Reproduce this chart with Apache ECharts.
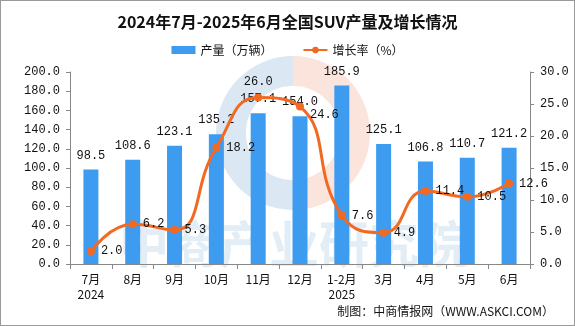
<!DOCTYPE html>
<html>
<head>
<meta charset="utf-8">
<script src="https://cdn.jsdelivr.net/npm/echarts@6/dist/echarts.min.js"></script>
<style>
html,body{margin:0;padding:0;background:#fff;}
#chart{width:575px;height:326px;box-sizing:border-box;border:1px solid #9a9a9a;}
</style>
</head>
<body>
<div id="chart"></div>
<script>
// 月份
const categories = ['7月\n2024','8月','9月','10月','11月','12月','1-2月\n2025','3月','4月','5月','6月'];
// 产量（万辆）
const production = [98.5,108.6,123.1,135.2,157.1,154.0,185.9,125.1,106.8,110.7,121.2];
// 增长率（%）
const growth = [2.0,6.2,5.3,18.2,26.0,24.6,7.6,4.9,11.4,10.5,12.6];
// 坐标轴刻度
const leftTicks = {min:0,max:200,interval:20};
const rightTicks = {min:0,max:30,interval:5};

const numFont = '"Liberation Mono","DejaVu Sans Mono",monospace';
const cjkFont = '"Noto Sans CJK SC","Noto Sans",sans-serif';

const chart = echarts.init(document.getElementById('chart'));
chart.setOption({
  animation:false,
  title:{
    text:'2024年7月-2025年6月全国SUV产量及增长情况',
    left:'center', top:8,
    textStyle:{fontFamily:cjkFont,fontSize:16,fontWeight:'bold',color:'#111'}
  },
  legend:{
    top:38, left:'center', itemGap:30,
    textStyle:{fontFamily:cjkFont,fontSize:12,color:'#111'},
    data:[
      {name:'产量（万辆）',icon:'rect',itemStyle:{color:'#3d9bf0'}},
      {name:'增长率（%）'}
    ],
    itemWidth:24,itemHeight:8
  },
  graphic:[
    // 背景水印标志
    {type:'arc',shape:{cx:292,cy:132,r:62,startAngle:Math.PI*0.5,endAngle:Math.PI*1.5},z:0,silent:true,
     style:{fill:'none',stroke:'rgba(175,205,228,0.45)',lineWidth:30}},
    {type:'arc',shape:{cx:292,cy:132,r:62,startAngle:-Math.PI*0.5,endAngle:Math.PI*0.5},z:0,silent:true,
     style:{fill:'none',stroke:'rgba(245,195,175,0.45)',lineWidth:30}},
    {type:'text',left:118,top:218,z:0,silent:true,
     style:{text:'中商产业研究院',font:'bold 50px "Noto Sans CJK SC"',fill:'rgba(160,195,225,0.30)'}},
    {type:'text',right:20,bottom:8,
     style:{text:'制图：中商情报网（WWW.ASKCI.COM）',font:'12px "Noto Sans CJK SC"',fill:'#111'}}
  ],
  grid:{left:69,right:44,top:71,bottom:61},
  xAxis:{
    type:'category',data:categories,
    axisLine:{lineStyle:{color:'#888'}},
    axisTick:{show:true,lineStyle:{color:'#888'},length:5},
    axisLabel:{fontFamily:cjkFont,fontSize:12,color:'#111',margin:8,lineHeight:15}
  },
  yAxis:[
    {type:'value',min:leftTicks.min,max:leftTicks.max,interval:leftTicks.interval,
     splitLine:{show:false},
     axisLine:{show:true,lineStyle:{color:'#888'}},
     axisTick:{show:true,lineStyle:{color:'#888'},length:4},
     axisLabel:{formatter:v=>v.toFixed(1),fontFamily:numFont,fontSize:12,color:'#111',margin:10}},
    {type:'value',min:rightTicks.min,max:rightTicks.max,interval:rightTicks.interval,
     splitLine:{show:false},
     axisLine:{show:true,lineStyle:{color:'#888'}},
     axisTick:{show:true,lineStyle:{color:'#888'},length:4},
     axisLabel:{formatter:v=>v.toFixed(1),fontFamily:numFont,fontSize:12,color:'#111',margin:10}}
  ],
  series:[
    {name:'产量（万辆）',type:'bar',data:production,barWidth:15,
     itemStyle:{color:'#3d9bf0'},
     label:{show:true,position:'top',distance:8,formatter:p=>p.value.toFixed(1),
       fontFamily:numFont,fontSize:12,color:'#111'}},
    {name:'增长率（%）',type:'line',yAxisIndex:1,
     data:growth.map((v,i)=>i===4?{value:v,label:{position:'top'}}:(i===5?{value:v,label:{offset:[0,8]}}:v)),
     smooth:0.5,symbol:'circle',symbolSize:8,
     itemStyle:{color:'#f26a22'},lineStyle:{color:'#f26a22',width:3},
     label:{show:true,position:'right',distance:6,formatter:p=>p.value.toFixed(1),
       fontFamily:numFont,fontSize:12,color:'#111'},
     z:3}
  ]
});
</script>
</body>
</html>
